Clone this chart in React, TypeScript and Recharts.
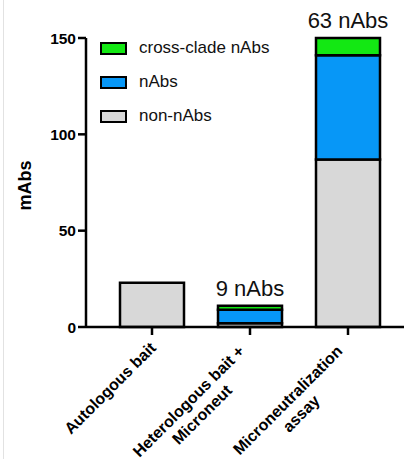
import { BarChart, Bar, XAxis, YAxis, Legend, LabelList } from "recharts";

// categories (line breaks as in the original axis)
const groups = [
  "Autologous bait",
  "Heterologous bait +\nMicroneut",
  "Microneutralization\nassay",
];
// stacked counts, bottom to top
const nonNAbs = [23, 2, 87];
const nAbs = [0, 7, 54];
const crossClade = [0, 2, 9];
const notes = ["", "9 nAbs", "63 nAbs"];
const yTicks = [0, 50, 100, 150];
const legendOrder = ["cross-clade nAbs", "nAbs", "non-nAbs"];

const data = groups.map((g, i) => ({
  group: g,
  nonNAbs: nonNAbs[i],
  nAbs: nAbs[i],
  crossClade: crossClade[i],
  note: notes[i],
}));

const FONT = "'Liberation Sans', Arial, sans-serif";

let canvas: HTMLCanvasElement | null = null;
function textWidth(text: string, font: string): number {
  if (!canvas) canvas = document.createElement("canvas");
  const ctx = canvas.getContext("2d");
  if (!ctx) return text.length * 8;
  ctx.font = font;
  return ctx.measureText(text).width;
}

function GroupTick(props: any) {
  const { x, y, payload } = props;
  const lines = String(payload.value).split("\n");
  const size = 16;
  const widths = lines.map((l) => textWidth(l, `bold ${size}px 'Liberation Sans'`));
  const maxW = Math.max(...widths);
  const lh = 19;
  const multi = lines.length > 1;
  const along = multi ? -9 : 0;
  const perp0 = multi ? -4.5 : 0;
  return (
    <g transform={`translate(${x + 1},${y + 8}) rotate(-45)`}>
      {lines.map((l, i) => (
        <text
          key={i}
          x={along - maxW / 2}
          y={perp0 + i * lh}
          dy="0.35em"
          textAnchor="middle"
          fontFamily={FONT}
          fontWeight="bold"
          fontSize={size}
          fill="#000"
        >
          {l}
        </text>
      ))}
    </g>
  );
}

function renderLegend(props: any) {
  const items = [...(props.payload || [])].sort(
    (a: any, b: any) => legendOrder.indexOf(a.value) - legendOrder.indexOf(b.value)
  );
  return (
    <div style={{ fontFamily: FONT, fontSize: 17, color: "#111" }}>
      {items.map((item: any) => (
        <div key={item.value} style={{ display: "flex", alignItems: "center", height: 34 }}>
          <span
            style={{
              display: "inline-block",
              width: 27,
              height: 13,
              boxSizing: "border-box",
              border: "2.5px solid #000",
              background: item.color,
              marginRight: 12,
            }}
          />
          <span>{item.value}</span>
        </div>
      ))}
    </div>
  );
}

export default function App() {
  return (
    <div style={{ position: "absolute", left: 0, top: 0, width: 404, height: 459, background: "#fff" }}>
      <div style={{ position: "absolute", left: 3, top: 0, width: 1, height: 459, background: "#e2e2e2" }} />
      <BarChart
        width={404}
        height={459}
        data={data}
        margin={{ top: 38, right: 0, bottom: 0, left: 0 }}
        barSize={64}
      >
        <XAxis
          dataKey="group"
          interval={0}
          height={132}
          padding={{ left: 17, right: 7 }}
          tickSize={8}
          tickLine={{ stroke: "#000", strokeWidth: 2.5 }}
          axisLine={{ stroke: "#000", strokeWidth: 2.5 }}
          tick={<GroupTick />}
        />
        <YAxis
          width={86}
          domain={[0, 150]}
          ticks={yTicks}
          tickSize={8}
          tickLine={{ stroke: "#000", strokeWidth: 2.5 }}
          axisLine={{ stroke: "#000", strokeWidth: 2.5 }}
          tick={{ fill: "#000", fontSize: 15.5, fontWeight: "bold", fontFamily: FONT }}
          label={{
            value: "mAbs",
            content: (p: any) => {
              const vb = p.viewBox || { x: 0, y: 38, width: 86, height: 289 };
              const cx = vb.x + 25;
              const cy = vb.y + vb.height / 2 + 3;
              return (
                <text
                  x={cx}
                  y={cy}
                  dy="0.35em"
                  textAnchor="middle"
                  transform={`rotate(-90, ${cx}, ${cy})`}
                  fontFamily={FONT}
                  fontWeight="bold"
                  fontSize={18}
                  fill="#000"
                >
                  mAbs
                </text>
              );
            },
          }}
        />
        <Legend
          layout="vertical"
          align="center"
          verticalAlign="middle"
          wrapperStyle={{ left: 100, top: 31, width: 220 }}
          content={renderLegend}
        />
        <Bar dataKey="nonNAbs" name="non-nAbs" stackId="a" fill="#d8d8d8" stroke="#000" strokeWidth={2.5} isAnimationActive={false} />
        <Bar dataKey="nAbs" name="nAbs" stackId="a" fill="#0797f7" stroke="#000" strokeWidth={2.5} isAnimationActive={false} />
        <Bar dataKey="crossClade" name="cross-clade nAbs" stackId="a" fill="#13e813" stroke="#000" strokeWidth={2.5} isAnimationActive={false}>
          <LabelList
            dataKey="note"
            position="top"
            offset={10}
            style={{ fontFamily: FONT, fontSize: 22, fill: "#111" }}
          />
        </Bar>
      </BarChart>
    </div>
  );
}
